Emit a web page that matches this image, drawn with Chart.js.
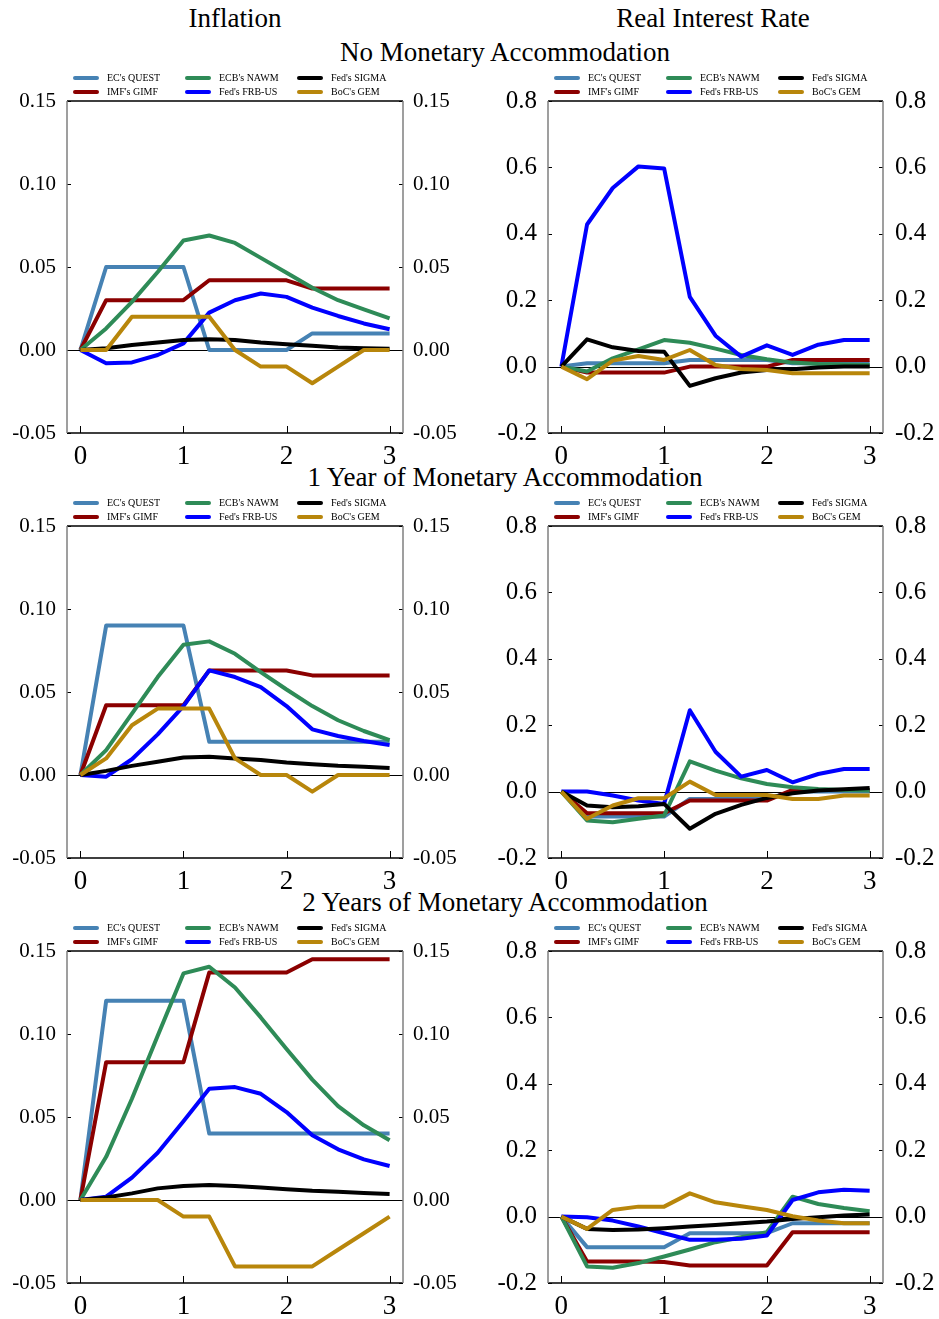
<!DOCTYPE html>
<html>
<head>
<meta charset="utf-8">
<script src="https://cdn.jsdelivr.net/npm/chart.js@4.4.0/dist/chart.umd.min.js"></script>
<style>
  body { margin: 0; background: #fff; font-family: "Liberation Serif", "Times New Roman", serif; }
  #page { position: relative; width: 939px; height: 1319px; overflow: hidden; }
  .title { position: absolute; font-size: 27px; line-height: 27px; white-space: nowrap; transform: translateX(-50%); color: #000; }
  canvas { position: absolute; }
  .key { position: absolute; font-size: 10px; line-height: 10px; white-space: nowrap; color: #000; }
  .swatch { position: absolute; width: 26px; height: 4px; border-radius: 2px; }
</style>
</head>
<body>
<div id="page"></div>
<script>
// horizon in years, quarterly
const quarters = [0, 0.25, 0.5, 0.75, 1, 1.25, 1.5, 1.75, 2, 2.25, 2.5, 2.75, 3];
const yearTicks = [0, 1, 2, 3];
const inflationTicks = [-0.05, 0, 0.05, 0.10, 0.15];
const rateTicks = [-0.2, 0, 0.2, 0.4, 0.6, 0.8];

const models = ["EC's QUEST", "IMF's GIMF", "ECB's NAWM", "Fed's FRB-US", "Fed's SIGMA", "BoC's GEM"];
const modelColors = ['#4682B4', '#8B0000', '#2E8B57', '#0000FF', '#000000', '#B8860B'];

const rowTitles = ['No Monetary Accommodation', '1 Year of Monetary Accommodation', '2 Years of Monetary Accommodation'];

// no monetary accommodation: inflation
const questInfl0 = [0, .05, .05, .05, .05, 0, 0, 0, 0, .01, .01, .01, .01];
const gimfInfl0  = [0, .03, .03, .03, .03, .042, .042, .042, .042, .037, .037, .037, .037];
const nawmInfl0  = [0, .013, .029, .047, .066, .069, .0645, .0555, .0465, .0375, .030, .0245, .019];
const frbusInfl0 = [0, -.008, -.0075, -.003, .004, .0225, .030, .034, .032, .0255, .0205, .016, .0125];
const sigmaInfl0 = [0, .001, .003, .0045, .006, .0065, .006, .0045, .0035, .0025, .0015, .001, .0008];
const gemInfl0   = [0, 0, .02, .02, .02, .02, 0, -.01, -.01, -.02, -.01, 0, 0];

// no monetary accommodation: real interest rate
const questRate0 = [0, .01, .01, .01, .01, .02, .02, .02, .02, .01, .01, .01, .01];
const gimfRate0  = [0, -.018, -.018, -.018, -.018, 0, 0, 0, 0, .02, .02, .02, .02];
const nawmRate0  = [0, -.015, .025, .052, .08, .072, .054, .035, .022, .012, .008, .006, .005];
const frbusRate0 = [0, .428, .538, .603, .597, .21, .093, .03, .064, .035, .066, .08, .08];
const sigmaRate0 = [0, .082, .058, .047, .045, -.058, -.035, -.018, -.01, -.008, -.003, 0, 0];
const gemRate0   = [0, -.038, .018, .032, .02, .05, .005, -.007, -.01, -.02, -.02, -.02, -.02];

// 1 year of accommodation: inflation
const questInfl1 = [0, .09, .09, .09, .09, .02, .02, .02, .02, .02, .02, .02, .02];
const gimfInfl1  = [0, .042, .042, .042, .042, .063, .063, .063, .063, .06, .06, .06, .06];
const nawmInfl1  = [0, .015, .037, .059, .0785, .0805, .073, .062, .0515, .0415, .033, .0265, .021];
const frbusInfl1 = [0, -.001, .0095, .0245, .0415, .063, .059, .053, .0415, .0275, .0235, .0205, .018];
const sigmaInfl1 = [0, .0025, .0055, .008, .0105, .011, .01, .009, .0075, .0065, .0055, .005, .0042];
const gemInfl1   = [0, .01, .03, .04, .04, .04, .01, 0, 0, -.01, 0, 0, 0];

// 1 year of accommodation: real interest rate
const questRate1 = [0, -.075, -.075, -.075, -.075, -.022, -.022, -.022, -.022, 0, 0, 0, 0];
const gimfRate1  = [0, -.065, -.065, -.065, -.065, -.027, -.027, -.027, -.027, .005, .005, .005, .005];
const nawmRate1  = [0, -.087, -.092, -.082, -.072, .091, .063, .04, .023, .013, .008, .005, .003];
const frbusRate1 = [0, 0, -.012, -.027, -.037, .245, .12, .045, .065, .028, .053, .068, .068];
const sigmaRate1 = [0, -.042, -.047, -.044, -.037, -.112, -.067, -.04, -.019, -.005, .003, .007, .011];
const gemRate1   = [0, -.082, -.042, -.02, -.02, .03, -.01, -.01, -.01, -.022, -.022, -.012, -.012];

// 2 years of accommodation: inflation
const questInfl2 = [0, .12, .12, .12, .12, .04, .04, .04, .04, .04, .04, .04, .04];
const gimfInfl2  = [0, .083, .083, .083, .083, .137, .137, .137, .137, .145, .145, .145, .145];
const nawmInfl2  = [0, .026, .061, .099, .1365, .1405, .128, .11, .091, .0725, .0565, .045, .036];
const frbusInfl2 = [0, .002, .0135, .0285, .0475, .067, .068, .064, .053, .039, .0305, .0245, .0205];
const sigmaInfl2 = [0, .0015, .004, .007, .0085, .009, .0085, .0075, .0065, .0055, .005, .0042, .0036];
const gemInfl2   = [0, 0, 0, 0, -.01, -.01, -.04, -.04, -.04, -.04, -.03, -.02, -.01];

// 2 years of accommodation: real interest rate
const questRate2 = [0, -.092, -.092, -.092, -.092, -.05, -.05, -.05, -.05, -.02, -.02, -.02, -.02];
const gimfRate2  = [0, -.135, -.135, -.135, -.137, -.147, -.147, -.147, -.147, -.047, -.047, -.047, -.047];
const nawmRate2  = [0, -.15, -.154, -.14, -.12, -.099, -.077, -.062, -.047, .06, .038, .026, .016];
const frbusRate2 = [0, -.002, -.012, -.03, -.05, -.07, -.07, -.067, -.057, .05, .073, .081, .078];
const sigmaRate2 = [0, -.037, -.04, -.039, -.035, -.03, -.025, -.02, -.015, -.007, -.002, .003, .006];
const gemRate2   = [0, -.037, .02, .03, .03, .07, .043, .031, .02, .001, -.012, -.02, -.02];

const inflRows = [
  [questInfl0, gimfInfl0, nawmInfl0, frbusInfl0, sigmaInfl0, gemInfl0],
  [questInfl1, gimfInfl1, nawmInfl1, frbusInfl1, sigmaInfl1, gemInfl1],
  [questInfl2, gimfInfl2, nawmInfl2, frbusInfl2, sigmaInfl2, gemInfl2],
];
const rateRows = [
  [questRate0, gimfRate0, nawmRate0, frbusRate0, sigmaRate0, gemRate0],
  [questRate1, gimfRate1, nawmRate1, frbusRate1, sigmaRate1, gemRate1],
  [questRate2, gimfRate2, nawmRate2, frbusRate2, sigmaRate2, gemRate2],
];

const PLOT_TOPS = [101, 526, 951];
const PLOT_H = 332;
const PAD_TOP = 32;   // room for the half-height of the top tick label
const X_AXIS_H = 40;
const SERIF = 'Liberation Serif, Times New Roman, serif';

Chart.defaults.font.family = SERIF;

const columns = {
  infl: { left: 0, width: 470, axisL: 67, axisR: 67, min: -0.05, max: 0.15, ticks: inflationTicks, digits: 2, size: 21, padR: 10 },
  rate: { left: 470, width: 469, axisL: 78, axisR: 56, min: -0.2, max: 0.8, ticks: rateTicks, digits: 1, size: 25, padR: 12 },
};

const page = document.getElementById('page');

function addText(cls, text, x, y) {
  const el = document.createElement('div');
  el.className = cls;
  el.textContent = text;
  el.style.left = x + 'px';
  el.style.top = y + 'px';
  page.appendChild(el);
  return el;
}

// column headings and row headings
addText('title', 'Inflation', 235, 4.5);
addText('title', 'Real Interest Rate', 713, 4.5);
rowTitles.forEach((t, r) => addText('title', t, 505, 38.5 + r * 425));

// axes frame: zero line, spines and inward ticks
const framePlugin = {
  id: 'frame',
  beforeDatasetsDraw(chart) {
    const { ctx, chartArea: a, scales } = chart;
    const y0 = Math.round(scales.y.getPixelForValue(0)) + 0.5;
    ctx.save();
    ctx.strokeStyle = '#000';
    ctx.lineWidth = 1;
    ctx.beginPath();
    ctx.moveTo(a.left, y0);
    ctx.lineTo(a.right, y0);
    ctx.stroke();
    ctx.restore();
  },
  afterDatasetsDraw(chart) {
    const { ctx, chartArea: a, scales } = chart;
    ctx.save();
    ctx.lineWidth = 1;
    ctx.strokeStyle = '#000';
    ctx.beginPath();
    scales.y.ticks.forEach(t => {
      const py = Math.round(scales.y.getPixelForValue(t.value)) + 0.5;
      ctx.moveTo(a.left, py); ctx.lineTo(a.left + 4, py);
      ctx.moveTo(a.right, py); ctx.lineTo(a.right - 4, py);
    });
    scales.x.ticks.forEach(t => {
      const px = Math.round(scales.x.getPixelForValue(t.value)) + 0.5;
      ctx.moveTo(px, a.bottom); ctx.lineTo(px, a.bottom - 7);
    });
    ctx.stroke();

    ctx.lineWidth = 1.3;
    ctx.strokeStyle = '#000';
    ctx.beginPath();
    ctx.moveTo(a.left, a.top); ctx.lineTo(a.right, a.top);
    ctx.moveTo(a.left, a.bottom); ctx.lineTo(a.right, a.bottom);
    ctx.stroke();
    ctx.strokeStyle = '#808080';
    ctx.lineWidth = 1.5;
    ctx.beginPath();
    ctx.moveTo(a.left, a.top); ctx.lineTo(a.left, a.bottom);
    ctx.moveTo(a.right, a.top); ctx.lineTo(a.right, a.bottom);
    ctx.stroke();
    ctx.restore();
  }
};

function addLegend(plotLeft, plotTop) {
  models.forEach((name, i) => {
    const col = Math.floor(i / 2);
    const row = i % 2;
    const cx = plotLeft + 6 + col * 112;
    const cy = plotTop - 23.3 + row * 14.6;
    const sw = document.createElement('div');
    sw.className = 'swatch';
    sw.style.left = cx + 'px';
    sw.style.top = (cy - 2) + 'px';
    sw.style.background = modelColors[i];
    page.appendChild(sw);
    addText('key', name, cx + 34, cy - 5);
  });
}

function makePanel(kind, row, series) {
  const c = columns[kind];
  const plotTop = PLOT_TOPS[row];
  const canvas = document.createElement('canvas');
  const h = PAD_TOP + PLOT_H + X_AXIS_H;
  canvas.width = c.width;
  canvas.height = h;
  canvas.style.left = c.left + 'px';
  canvas.style.top = (plotTop - PAD_TOP) + 'px';
  canvas.style.width = c.width + 'px';
  canvas.style.height = h + 'px';
  page.appendChild(canvas);

  addLegend(c.left + c.axisL, plotTop);

  const yTickFont = { family: SERIF, size: c.size };
  const yTicks = s => { s.ticks = c.ticks.map(v => ({ value: v })); };

  new Chart(canvas.getContext('2d'), {
    type: 'line',
    data: {
      datasets: series.map((vals, i) => ({
        label: models[i],
        data: quarters.map((q, k) => ({ x: q, y: vals[k] })),
        borderColor: modelColors[i],
        borderWidth: 4,
        borderJoinStyle: 'round',
        pointRadius: 0,
        tension: 0,
        fill: false,
        order: series.length - i,
      }))
    },
    options: {
      responsive: false,
      animation: false,
      devicePixelRatio: 1,
      layout: { padding: { top: PAD_TOP, left: 0, right: 0, bottom: 0 } },
      plugins: { legend: { display: false }, tooltip: { enabled: false } },
      scales: {
        x: {
          type: 'linear',
          position: 'bottom',
          min: -0.13,
          max: 3.13,
          grid: { display: false, drawTicks: false },
          border: { display: false },
          afterBuildTicks: s => { s.ticks = yearTicks.map(v => ({ value: v })); },
          afterFit: s => { s.height = X_AXIS_H; },
          ticks: { color: '#000', padding: 8, maxRotation: 0, font: { family: SERIF, size: 27 }, callback: v => String(v) },
        },
        y: {
          type: 'linear',
          position: 'left',
          min: c.min,
          max: c.max,
          grid: { display: false, drawTicks: false },
          border: { display: false },
          afterBuildTicks: yTicks,
          afterFit: s => { s.width = c.axisL; },
          ticks: { color: '#000', padding: 11, font: yTickFont, callback: v => v.toFixed(c.digits) },
        },
        y2: {
          type: 'linear',
          position: 'right',
          min: c.min,
          max: c.max,
          grid: { display: false, drawTicks: false },
          border: { display: false },
          afterBuildTicks: yTicks,
          afterFit: s => { s.width = c.axisR; },
          ticks: { color: '#000', padding: c.padR, font: yTickFont, callback: v => v.toFixed(c.digits) },
        },
      },
    },
    plugins: [framePlugin],
  });
}

for (let r = 0; r < 3; r++) {
  makePanel('infl', r, inflRows[r]);
  makePanel('rate', r, rateRows[r]);
}
</script>
</body>
</html>
